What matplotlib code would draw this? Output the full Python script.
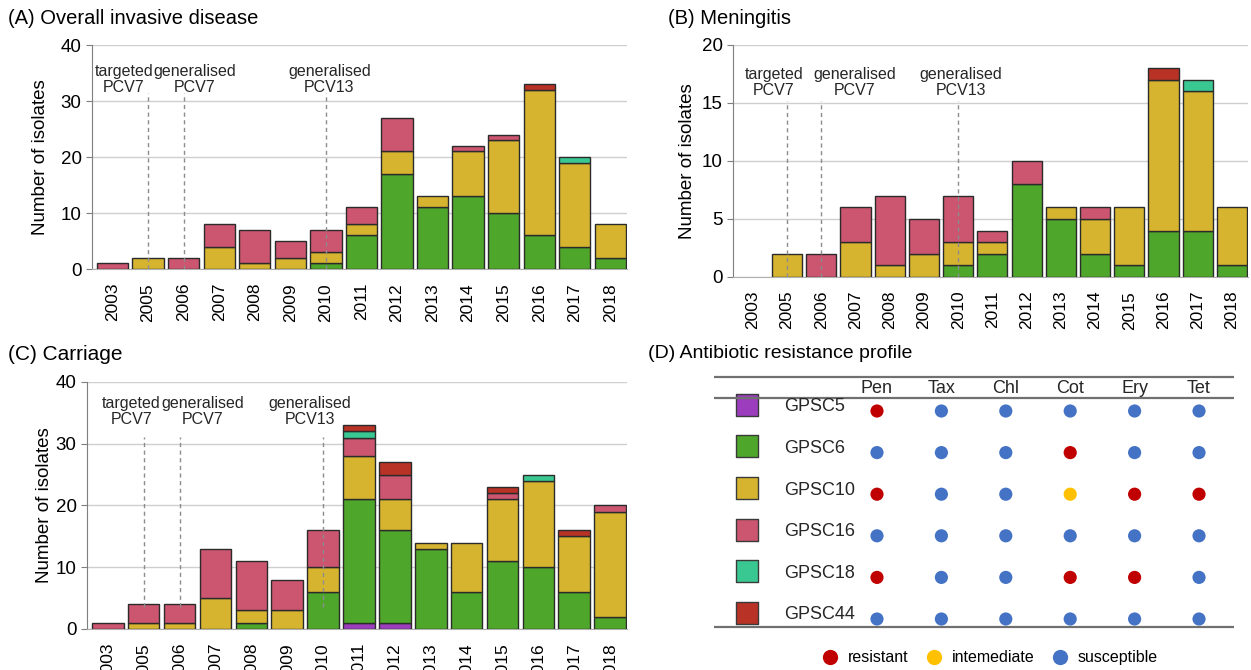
import matplotlib
matplotlib.use("Agg")
import matplotlib.pyplot as plt
from matplotlib.lines import Line2D
import numpy as np

plt.rcParams['font.family'] = ['Liberation Sans', 'DejaVu Sans']

# categories
years = ["2003", "2005", "2006", "2007", "2008", "2009", "2010", "2011",
         "2012", "2013", "2014", "2015", "2016", "2017", "2018"]
clusters = ["GPSC5", "GPSC6", "GPSC10", "GPSC16", "GPSC18", "GPSC44"]
cluster_colors = ["#9b3dbd", "#4ea62a", "#d6b430", "#cc5570", "#3ac892", "#b83226"]

# (A) overall invasive disease
inv_gpsc5 = [0, 0, 0, 0, 0, 0, 0, 0, 0, 0, 0, 0, 0, 0, 0]
inv_gpsc6 = [0, 0, 0, 0, 0, 0, 1, 6, 17, 11, 13, 10, 6, 4, 2]
inv_gpsc10 = [0, 2, 0, 4, 1, 2, 2, 2, 4, 2, 8, 13, 26, 15, 6]
inv_gpsc16 = [1, 0, 2, 4, 6, 3, 4, 3, 6, 0, 1, 1, 0, 0, 0]
inv_gpsc18 = [0, 0, 0, 0, 0, 0, 0, 0, 0, 0, 0, 0, 0, 1, 0]
inv_gpsc44 = [0, 0, 0, 0, 0, 0, 0, 0, 0, 0, 0, 0, 1, 0, 0]

# (B) meningitis
men_gpsc5 = [0, 0, 0, 0, 0, 0, 0, 0, 0, 0, 0, 0, 0, 0, 0]
men_gpsc6 = [0, 0, 0, 0, 0, 0, 1, 2, 8, 5, 2, 1, 4, 4, 1]
men_gpsc10 = [0, 2, 0, 3, 1, 2, 2, 1, 0, 1, 3, 5, 13, 12, 5]
men_gpsc16 = [0, 0, 2, 3, 6, 3, 4, 1, 2, 0, 1, 0, 0, 0, 0]
men_gpsc18 = [0, 0, 0, 0, 0, 0, 0, 0, 0, 0, 0, 0, 0, 1, 0]
men_gpsc44 = [0, 0, 0, 0, 0, 0, 0, 0, 0, 0, 0, 0, 1, 0, 0]

# (C) carriage
car_gpsc5 = [0, 0, 0, 0, 0, 0, 0, 1, 1, 0, 0, 0, 0, 0, 0]
car_gpsc6 = [0, 0, 0, 0, 1, 0, 6, 20, 15, 13, 6, 11, 10, 6, 2]
car_gpsc10 = [0, 1, 1, 5, 2, 3, 4, 7, 5, 1, 8, 10, 14, 9, 17]
car_gpsc16 = [1, 3, 3, 8, 8, 5, 6, 3, 4, 0, 0, 1, 0, 0, 1]
car_gpsc18 = [0, 0, 0, 0, 0, 0, 0, 1, 0, 0, 0, 0, 1, 0, 0]
car_gpsc44 = [0, 0, 0, 0, 0, 0, 0, 1, 2, 0, 0, 1, 0, 1, 0]

# vaccine introductions
vaccine_years = ["2005", "2006", "2010"]
vaccine_labels = ["targeted\nPCV7", "generalised\nPCV7", "generalised\nPCV13"]

# (D) antibiotic resistance profile
antibiotics = ["Pen", "Tax", "Chl", "Cot", "Ery", "Tet"]
profile_gpsc5 = ["R", "S", "S", "S", "S", "S"]
profile_gpsc6 = ["S", "S", "S", "R", "S", "S"]
profile_gpsc10 = ["R", "S", "S", "I", "R", "R"]
profile_gpsc16 = ["S", "S", "S", "S", "S", "S"]
profile_gpsc18 = ["R", "S", "S", "R", "R", "S"]
profile_gpsc44 = ["S", "S", "S", "S", "S", "S"]
status_names = {"R": "resistant", "I": "intemediate", "S": "susceptible"}
status_colors = {"R": "#c00000", "I": "#ffc000", "S": "#4472c4"}


def stacked_panel(ax, counts, ymax, step, text_x, text_y, line_top, line_bottom, labelpad):
    x = np.arange(len(years))
    bottom = np.zeros(len(years))
    for vals, col in zip(counts, cluster_colors):
        vals = np.array(vals, dtype=float)
        keep = vals > 0
        ax.bar(x[keep], vals[keep], 0.88, bottom=bottom[keep], color=col,
               edgecolor="#2b2b2b", linewidth=1, zorder=3)
        bottom += vals

    vx = [years.index(v) for v in vaccine_years]
    ax.vlines(vx, line_bottom, line_top, colors="#8c8c8c", linestyles=(0, (3, 2.5)),
              linewidth=1, zorder=4)
    for tx, lab in zip(text_x, vaccine_labels):
        ax.text(tx, text_y, lab, ha="center", va="center", fontsize=11.5,
                linespacing=1.05, color="#262626", zorder=5)

    ax.set_xlim(-0.58, 14.47)
    ax.set_ylim(0, ymax)
    ax.set_yticks(np.arange(0, ymax + 1, step))
    ax.set_xticks(x, years, rotation=90, fontsize=12.5)
    ax.tick_params(axis="x", length=0, pad=10)
    ax.tick_params(axis="y", labelsize=13.5, length=4, color="#7f7f7f")
    ax.yaxis.grid(True, color="#cfcfcf", linewidth=1, zorder=0)
    ax.set_axisbelow(True)
    for s in ["top", "right"]:
        ax.spines[s].set_visible(False)
    ax.spines["left"].set_color("#7f7f7f")
    ax.spines["bottom"].set_color("#b0b0b0")
    ax.set_ylabel("Number of isolates", fontsize=13.5, labelpad=labelpad)


fig = plt.figure(figsize=(12.51, 6.70), dpi=100)

ax_a = fig.add_axes([0.0735, 0.5985, 0.4277, 0.3343])
stacked_panel(ax_a, [inv_gpsc5, inv_gpsc6, inv_gpsc10, inv_gpsc16, inv_gpsc18, inv_gpsc44],
              40, 10, [0.32, 2.32, 6.1], 33.8, 31.4, 0, 8)

ax_b = fig.add_axes([0.5859, 0.5866, 0.4117, 0.3463])
stacked_panel(ax_b, [men_gpsc5, men_gpsc6, men_gpsc10, men_gpsc16, men_gpsc18, men_gpsc44],
              20, 5, [0.62, 2.97, 6.07], 16.75, 15.2, 0, 4)

ax_c = fig.add_axes([0.0695, 0.0612, 0.4317, 0.3687])
stacked_panel(ax_c, [car_gpsc5, car_gpsc6, car_gpsc10, car_gpsc16, car_gpsc18, car_gpsc44],
              40, 10, [0.65, 2.64, 5.64], 35.2, 31.1, 3.6, 2)

fig.text(8 / 1251, 1 - 18 / 670, "(A) Overall invasive disease", fontsize=14.5, va="center")
fig.text(668 / 1251, 1 - 18 / 670, "(B) Meningitis", fontsize=14.5, va="center")
fig.text(8 / 1251, 1 - 355 / 670, "(C) Carriage", fontsize=15, va="center")
fig.text(648 / 1251, 1 - 353 / 670, "(D) Antibiotic resistance profile", fontsize=14, va="center")

# (D) table of resistance dots
ax_d = fig.add_axes([700 / 1251, 0, 551 / 1251, 310 / 670])
ax_d.set_xlim(-2.748, 5.807)
ax_d.set_ylim(6.226, -1.226)
ax_d.axis("off")

profiles = [profile_gpsc5, profile_gpsc6, profile_gpsc10, profile_gpsc16,
            profile_gpsc18, profile_gpsc44]
ax_d.hlines([-0.817, -0.313, 5.19], -2.53, 5.54, colors="#707070", linewidth=1.6)
for j, ab in enumerate(antibiotics):
    ax_d.text(j, -0.55, ab, ha="center", va="center", fontsize=13, color="#262626")
for i, (name, col, prof) in enumerate(zip(clusters, cluster_colors, profiles)):
    ax_d.scatter([-2.02], [i - 0.15], s=260, marker="s", color=col,
                 edgecolor="#3a3a3a", linewidth=1)
    ax_d.text(-1.44, i - 0.1, name, ha="left", va="center", fontsize=13, color="#262626")
    ax_d.scatter(np.arange(len(antibiotics)), [i] * len(antibiotics), s=90,
                 color=[status_colors[p] for p in prof], edgecolor="none", zorder=3)

handles = [Line2D([], [], marker="o", linestyle="", markersize=11,
                  markerfacecolor=status_colors[k], markeredgecolor="none",
                  label=status_names[k]) for k in ["R", "I", "S"]]
ax_d.legend(handles=handles, ncol=3, loc="center", bbox_to_anchor=(0.525, 0.04),
            frameon=False, fontsize=11.5, handletextpad=0.5, columnspacing=1.0,
            handlelength=1.2)

fig.savefig("out.png", dpi=100)
